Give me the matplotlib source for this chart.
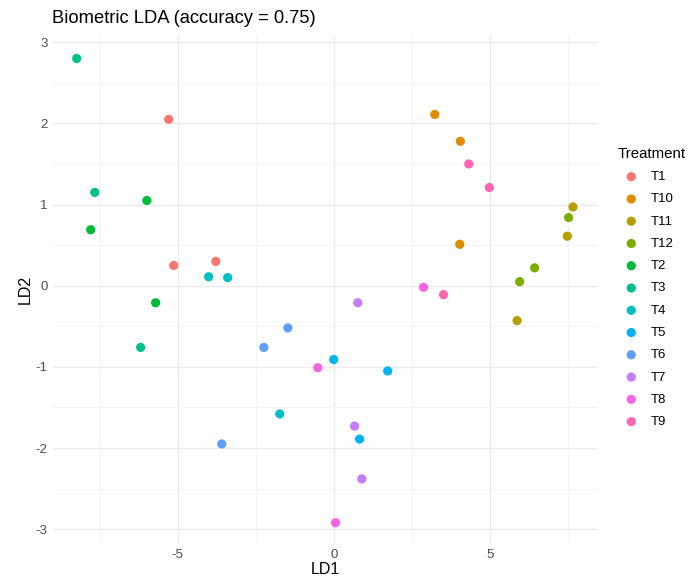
import numpy as np
import matplotlib
matplotlib.use("Agg")
import matplotlib.pyplot as plt

plt.rcParams["font.family"] = ["Liberation Sans", "DejaVu Sans"]
plt.rcParams["axes.unicode_minus"] = False

# LD scores, per treatment
treatments = ["T1", "T10", "T11", "T12", "T2", "T3", "T4", "T5", "T6", "T7", "T8", "T9"]
ld1 = {
    "T1": [-5.29, -5.13, -3.78],
    "T10": [3.24, 4.06, 4.04],
    "T11": [7.67, 7.49, 5.88],
    "T12": [7.53, 6.44, 5.96],
    "T2": [-5.99, -7.79, -5.71],
    "T3": [-8.24, -7.66, -6.19],
    "T4": [-4.01, -3.40, -1.73],
    "T5": [0.00, 1.73, 0.83],
    "T6": [-1.47, -2.24, -3.59],
    "T7": [0.77, 0.67, 0.90],
    "T8": [-0.51, 2.88, 0.06],
    "T9": [4.33, 4.99, 3.52],
}
ld2 = {
    "T1": [2.05, 0.25, 0.30],
    "T10": [2.11, 1.78, 0.51],
    "T11": [0.97, 0.61, -0.43],
    "T12": [0.84, 0.22, 0.05],
    "T2": [1.05, 0.69, -0.21],
    "T3": [2.80, 1.15, -0.76],
    "T4": [0.11, 0.10, -1.58],
    "T5": [-0.91, -1.05, -1.89],
    "T6": [-0.52, -0.76, -1.95],
    "T7": [-0.21, -1.73, -2.38],
    "T8": [-1.01, -0.02, -2.92],
    "T9": [1.50, 1.21, -0.11],
}
# ggplot default hue palette for 12 levels
colors = ["#F8766D", "#DE8C00", "#B79F00", "#7CAE00", "#00BA38", "#00C08B",
          "#00BFC4", "#00B4F0", "#619CFF", "#C77CFF", "#F564E3", "#FF64B0"]

fig = plt.figure(figsize=(6.92, 5.82), dpi=100)
ax = fig.add_axes([0.0766, 0.067, 0.787, 0.873])

for t, c in zip(treatments, colors):
    ax.scatter(ld1[t], ld2[t], s=44, color=c, edgecolors="none", label=t, zorder=3)

ax.set_xlim(-9.0, 8.46)
ax.set_ylim(-3.17, 3.09)
ax.set_xticks([-5, 0, 5])
ax.set_yticks([-3, -2, -1, 0, 1, 2, 3])
ax.set_xticks([-7.5, -2.5, 2.5, 7.5], minor=True)
ax.set_yticks(np.arange(-2.5, 3, 1.0), minor=True)
ax.grid(True, which="major", color="#EBEBEB", linewidth=1.0)
ax.grid(True, which="minor", color="#F3F3F3", linewidth=0.6)
ax.set_axisbelow(True)
for s in ax.spines.values():
    s.set_visible(False)
ax.tick_params(which="both", length=0, labelsize=9.5, labelcolor="#4D4D4D", pad=4)
ax.set_xlabel("LD1", fontsize=11.5, labelpad=1)
ax.set_ylabel("LD2", fontsize=11.5, labelpad=2)

fig.text(0.075, 0.968, "Biometric LDA (accuracy = 0.75)", fontsize=13.2, va="center", ha="left")

leg = fig.legend(loc="upper left", bbox_to_anchor=(0.876, 0.768), frameon=False,
                 title="Treatment", fontsize=9.5, title_fontsize=10.8,
                 labelspacing=0.76, handletextpad=0.45, markerscale=1.0)
leg._legend_box.align = "left"

fig.savefig("out.png", dpi=100)
